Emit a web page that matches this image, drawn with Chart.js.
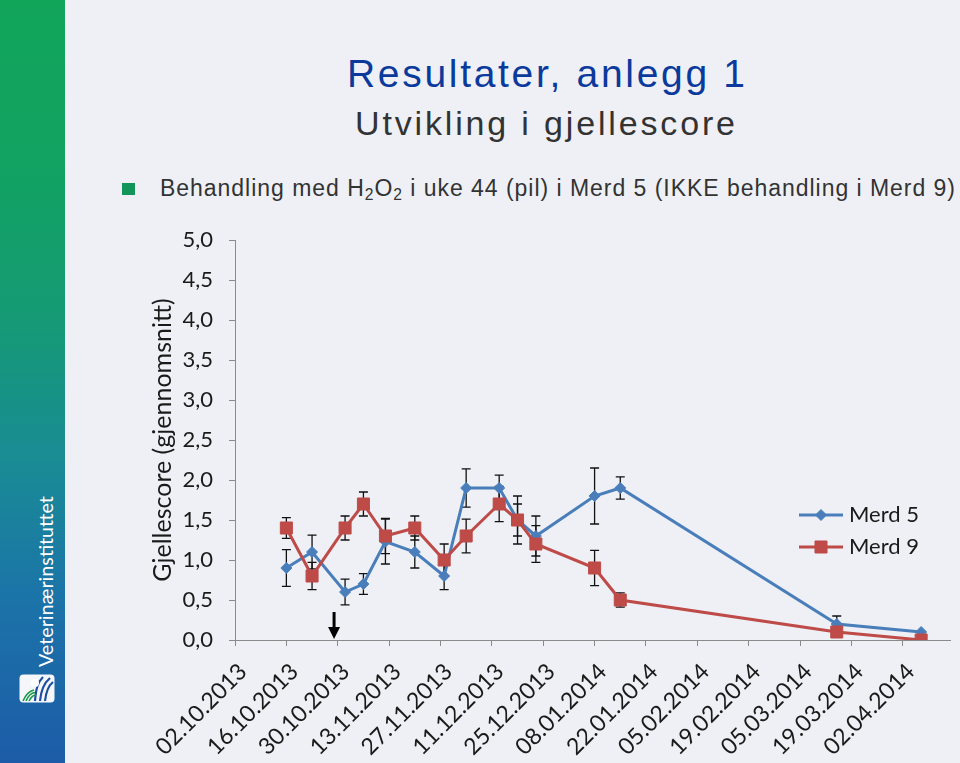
<!DOCTYPE html>
<html>
<head>
<meta charset="utf-8">
<script src="https://cdn.jsdelivr.net/npm/chart.js@4.4.1/dist/chart.umd.min.js"></script>
<style>
  html, body { margin: 0; padding: 0; width: 960px; height: 763px; overflow: hidden; background: #eef0f5; }
  #band { position: absolute; left: 0; top: 0; width: 65px; height: 763px;
    background: linear-gradient(to bottom, #11a55a 0%, #12a262 22%, #159a75 42%, #198c94 60%, #1b74a8 78%, #1d5ca8 100%); }
  #brand { position: absolute; left: 46px; top: 582px; color: #fff; font-family: Lato, "Open Sans", sans-serif;
    font-size: 18px; white-space: nowrap; line-height: 1; transform-origin: 0 0; }
  #logo { position: absolute; left: 19px; top: 674px; }
  .t { position: absolute; white-space: nowrap; line-height: 1; font-family: "Liberation Sans", Arial, sans-serif; }
  #title { top: 54px; left: 347px; font-size: 39px; color: #0b3a9c; }
  #subtitle { top: 106px; left: 355px; font-size: 34px; color: #333; }
  #bullet { position: absolute; left: 122px; top: 183px; width: 13px; height: 12px; background: #12945a; }
  #note { top: 177px; left: 160px; font-size: 23px; color: #333; }
  #note sub { font-size: 0.68em; vertical-align: -0.28em; line-height: 0; }
  canvas { position: absolute; left: 0; top: 0; }
</style>
</head>
<body>
<div id="band"></div>
<div id="brand">Veterinærinstituttet</div>
<svg id="logo" width="36" height="29" viewBox="0 0 36 29">
  <rect x="0.5" y="0.5" width="35" height="28" rx="4" ry="4" fill="#f4f6fa"/>
  <path d="M16 27 C 17 14, 19 8, 24 3" stroke="#1d4fa0" stroke-width="2.2" fill="none"/>
  <path d="M21 27 C 22 16, 25 9, 31 4" stroke="#1d4fa0" stroke-width="2.2" fill="none"/>
  <path d="M26 27 C 27 18, 29 12, 34 8" stroke="#1d4fa0" stroke-width="2.2" fill="none"/>
  <path d="M4 27 C 7 20, 10 17, 15 16" stroke="#1a9a4a" stroke-width="1.6" fill="none"/>
  <path d="M7 27 C 9 22, 12 19, 16 18.5" stroke="#1a9a4a" stroke-width="1.6" fill="none"/>
  <path d="M10 27 C 12 23, 14 21, 17 21" stroke="#1a9a4a" stroke-width="1.6" fill="none"/>
  <circle cx="16" cy="9" r="4" fill="#ffffff"/>
</svg>
<div id="title" class="t" data-w="398">Resultater, anlegg 1</div>
<div id="subtitle" class="t" data-w="380">Utvikling i gjellescore</div>
<div id="bullet"></div>
<div id="note" class="t" data-w="795">Behandling med H<sub>2</sub>O<sub>2</sub> i uke 44 (pil) i Merd 5 (IKKE behandling i Merd 9)</div>
<canvas id="c" width="960" height="763"></canvas>
<script>
// ---------------- data ----------------
const sampleDates = ['16.10.2013','23.10.2013','01.11.2013','06.11.2013','12.11.2013','20.11.2013','28.11.2013',
  '04.12.2013','13.12.2013','18.12.2013','23.12.2013','08.01.2014','15.01.2014','15.03.2014','07.04.2014'];
const merd5    = [0.9, 1.1, 0.6, 0.7, 1.23, 1.1, 0.8, 1.9, 1.9, 1.5, 1.3, 1.8, 1.9, 0.2, 0.1];
const merd5Err = [0.23, 0.21, 0.16, 0.13, 0.28, 0.2, 0.17, 0.24, 0.16, 0.2, 0.25, 0.35, 0.14, 0.1, 0];
const merd9    = [1.4, 0.8, 1.4, 1.7, 1.3, 1.4, 1.0, 1.3, 1.7, 1.5, 1.2, 0.9, 0.5, 0.1, 0.0];
const merd9Err = [0.13, 0.17, 0.15, 0.15, 0.22, 0.15, 0.2, 0.21, 0.22, 0.3, 0.23, 0.22, 0.09, 0, 0];
const xTickLabels = ['02.10.2013','16.10.2013','30.10.2013','13.11.2013','27.11.2013','11.12.2013','25.12.2013',
  '08.01.2014','22.01.2014','05.02.2014','19.02.2014','05.03.2014','19.03.2014','02.04.2014'];
const yTickLabels = ['0,0','0,5','1,0','1,5','2,0','2,5','3,0','3,5','4,0','4,5','5,0'];
const seriesNames = ['Merd 5', 'Merd 9'];
const axisStartDate = '02.10.2013';
const axisEndDate = '15.04.2014';
const treatmentDate = '29.10.2013';
const arrowFromValue = 0.35;

// ---------------- helpers ----------------
function dayNum(s) { const [d, m, y] = s.split('.').map(Number); return Date.UTC(y, m - 1, d) / 86400000; }
const t0 = dayNum(axisStartDate);
const dayOf = s => dayNum(s) - t0;

// fit text widths
document.querySelectorAll('.t[data-w]').forEach(el => {
  const target = +el.dataset.w;
  const nat = el.getBoundingClientRect().width;
  const n = el.textContent.length - 1;
  el.style.letterSpacing = ((target - nat) / n) + 'px';
});
(function () {
  const b = document.getElementById('brand');
  const w = b.getBoundingClientRect().width;
  b.style.fontSize = (18 * 171 / w) + 'px';
  const w2 = b.getBoundingClientRect().width, h2 = b.getBoundingClientRect().height;
  b.style.left = (46 - h2 / 2) + 'px';
  b.style.top = (582 + w2 / 2) + 'px';
  b.style.transform = 'rotate(-90deg)';
})();

const BLUE = '#4a7ebb', RED = '#be4b48';
const FONT = 'Lato, "Open Sans", sans-serif';

const errorBars = {
  id: 'errorBars',
  beforeDatasetsDraw(chart) {
    const { ctx, scales: { x, y } } = chart;
    ctx.save();
    ctx.strokeStyle = '#111';
    ctx.lineWidth = 1.3;
    chart.data.datasets.forEach(ds => {
      ds.data.forEach((p, i) => {
        const e = ds.errors[i];
        if (!e) return;
        const px = x.getPixelForValue(p.x);
        const yt = y.getPixelForValue(p.y + e), yb = y.getPixelForValue(p.y - e);
        ctx.beginPath();
        ctx.moveTo(px, yt); ctx.lineTo(px, yb);
        ctx.moveTo(px - 4.5, yt); ctx.lineTo(px + 4.5, yt);
        ctx.moveTo(px - 4.5, yb); ctx.lineTo(px + 4.5, yb);
        ctx.stroke();
      });
    });
    ctx.restore();
  }
};

const arrowAndLegend = {
  id: 'arrowAndLegend',
  afterDraw(chart) {
    const { ctx, scales: { x, y } } = chart;
    // treatment arrow
    const ax = x.getPixelForValue(dayOf(treatmentDate));
    const yTop = y.getPixelForValue(arrowFromValue);
    const yTip = y.getPixelForValue(0) - 1;
    ctx.save();
    ctx.fillStyle = '#000';
    ctx.strokeStyle = '#000';
    ctx.lineWidth = 3;
    ctx.beginPath(); ctx.moveTo(ax, yTop); ctx.lineTo(ax, yTip - 10); ctx.stroke();
    ctx.beginPath(); ctx.moveTo(ax - 6, yTip - 12); ctx.lineTo(ax + 6, yTip - 12); ctx.lineTo(ax, yTip); ctx.closePath(); ctx.fill();
    // legend
    const items = chart.data.datasets;
    const ly = [515, 547];
    items.forEach((ds, i) => {
      ctx.strokeStyle = ds.borderColor;
      ctx.lineWidth = 3;
      ctx.beginPath(); ctx.moveTo(799, ly[i]); ctx.lineTo(843, ly[i]); ctx.stroke();
      ctx.fillStyle = ds.backgroundColor;
      ctx.strokeStyle = ds.borderColor;
      ctx.lineWidth = 1;
      Chart.helpers.drawPoint(ctx, { pointStyle: ds.pointStyle, radius: ds.pointRadius, rotation: 0, borderWidth: 1 }, 821, ly[i]);
      ctx.fillStyle = '#1a1a1a';
      ctx.font = '22px ' + FONT;
      ctx.textBaseline = 'middle';
      ctx.textAlign = 'left';
      ctx.fillText(ds.label, 849, ly[i]);
    });
    ctx.restore();
  }
};

const mk = (vals) => vals.map((v, i) => ({ x: dayOf(sampleDates[i]), y: v }));

new Chart(document.getElementById('c'), {
  type: 'line',
  data: {
    datasets: [
      { label: seriesNames[0], data: mk(merd5), errors: merd5Err, order: 2,
        borderColor: BLUE, backgroundColor: BLUE, borderWidth: 3, tension: 0,
        pointStyle: 'rectRot', pointRadius: 5.5, pointBorderWidth: 1, pointBackgroundColor: BLUE, pointBorderColor: BLUE },
      { label: seriesNames[1], data: mk(merd9), errors: merd9Err, order: 1,
        borderColor: RED, backgroundColor: RED, borderWidth: 3, tension: 0,
        pointStyle: 'rect', pointRadius: 8.5, pointBorderWidth: 1, pointBackgroundColor: RED, pointBorderColor: RED }
    ]
  },
  options: {
    responsive: false,
    animation: false,
    events: [],
    layout: { padding: { left: 144, top: 240, right: 0, bottom: 0 } },
    scales: {
      x: {
        type: 'linear',
        min: 0,
        max: dayOf(axisEndDate),
        afterBuildTicks: s => { s.ticks = xTickLabels.map(l => ({ value: dayOf(l) })); },
        afterFit: s => { s.height = 123; },
        ticks: {
          autoSkip: false, maxRotation: 45, minRotation: 45, padding: 12, labelOffset: 8,
          color: '#1a1a1a', font: { family: FONT, size: 23 },
          callback: v => { const l = xTickLabels.find(t => dayOf(t) === v); return l || ''; }
        },
        grid: { display: true, drawOnChartArea: false, tickLength: 6, color: '#8a8a8a' },
        border: { display: true, color: '#8a8a8a', width: 1 }
      },
      y: {
        min: 0, max: 5,
        afterFit: s => { s.width = 91; },
        ticks: { stepSize: 0.5, padding: 16, color: '#1a1a1a', font: { family: FONT, size: 22 },
          callback: v => yTickLabels[Math.round(v * 2)] },
        grid: { display: true, drawOnChartArea: false, tickLength: 6, color: '#8a8a8a' },
        border: { display: true, color: '#8a8a8a', width: 1 },
        title: { display: true, text: 'Gjellescore (gjennomsnitt)', color: '#1a1a1a',
          font: { family: FONT, size: 25 }, padding: { top: 4, bottom: 0 } }
      }
    },
    plugins: { legend: { display: false }, tooltip: { enabled: false }, title: { display: false } }
  },
  plugins: [errorBars, arrowAndLegend]
});
</script>
</body>
</html>
